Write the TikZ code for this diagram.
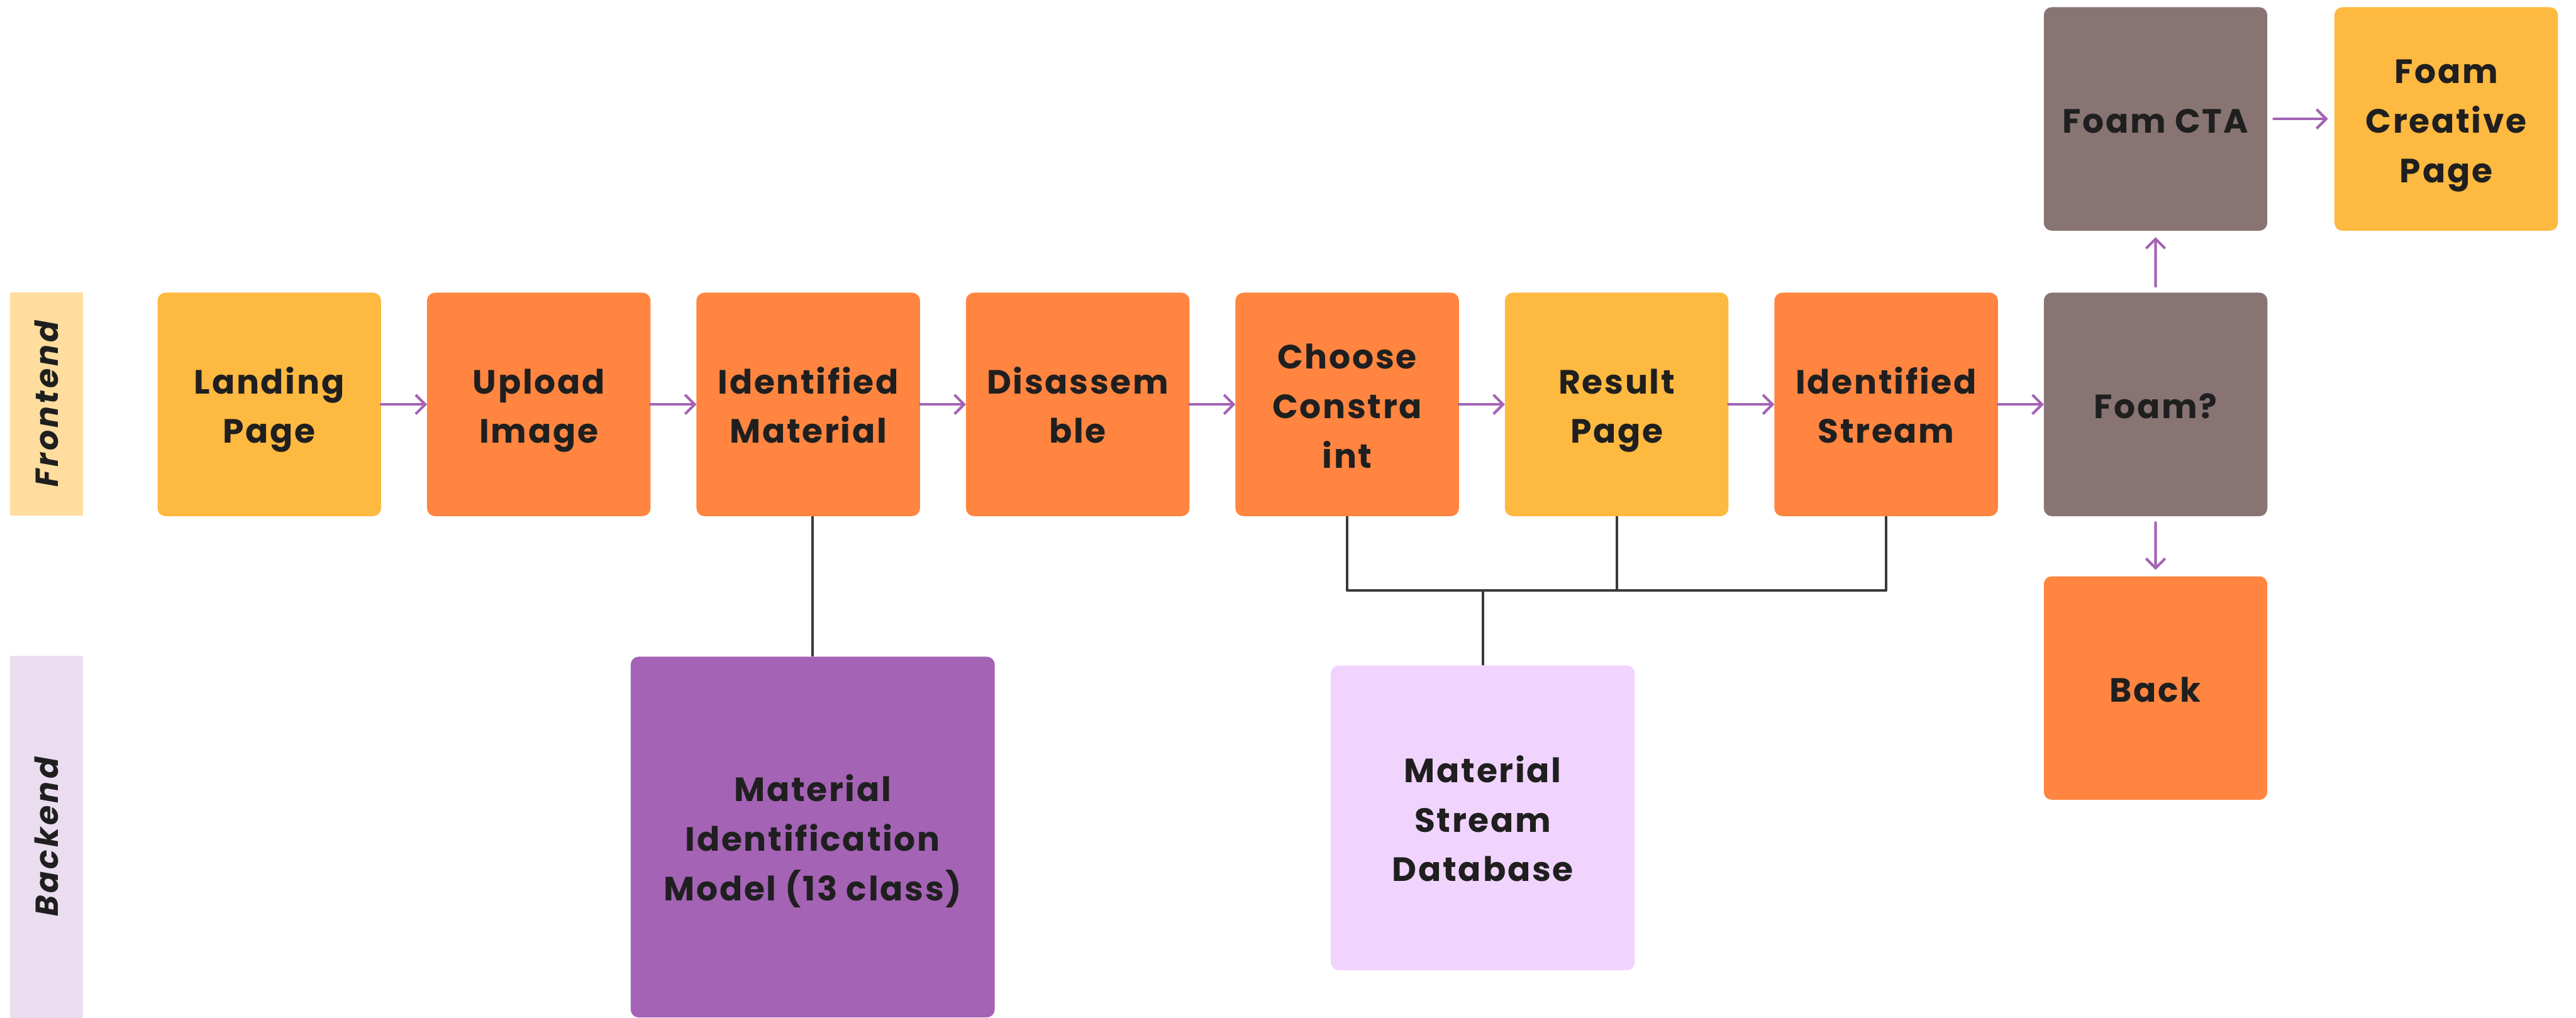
\documentclass[tikz,border=0pt]{standalone}
\usepackage{fontspec}
\setmainfont{Poppins}
\newfontfamily\boxfont[LetterSpace=5]{Poppins}
\newfontfamily\lanefont[LetterSpace=8]{Poppins}
\usetikzlibrary{arrows.meta,positioning}

\definecolor{laneFront}{HTML}{FFDD9E}
\definecolor{laneBack}{HTML}{EBDDF0}
\definecolor{pageYellow}{HTML}{FEB940}
\definecolor{stepOrange}{HTML}{FF8540}
\definecolor{foamGray}{HTML}{887473}
\definecolor{modelPurple}{HTML}{A463B5}
\definecolor{dbLilac}{HTML}{F1D4FE}
\definecolor{flowPurple}{HTML}{A463B5}
\definecolor{inkDark}{HTML}{1F1F1F}
\definecolor{wireDark}{HTML}{3A3A3A}

% one centred line box per row, like the design tool
\newcommand{\boxlines}[1]{\raisebox{-2.2pt}[\height][\depth]{\begin{tabular}{@{}c@{}}#1\end{tabular}}}

\begin{document}
\begin{tikzpicture}[line cap=round,line join=round,>={Straight Barb[length=1.8mm,width=3.6mm]}]
\tikzset{
    box/.style=      {rectangle, rounded corners=1.5mm, inner sep=0pt, outer sep=0pt,
                      minimum width=4.2cm, minimum height=4.2cm, text=inkDark,
                      font=\boxfont\bfseries\fontsize{18}{26.5}\selectfont},
    pagebox/.style=  {box, fill=pageYellow},
    stepbox/.style=  {box, fill=stepOrange},
    foambox/.style=  {box, fill=foamGray},
    lane/.style=     {rectangle, inner sep=0pt, outer sep=0pt, minimum width=1.37cm, text=inkDark,
                      font=\lanefont\bfseries\itshape\fontsize{17}{20}\selectfont},
    flow/.style=     {->, draw=flowPurple, line width=1.4pt},
    flowgap/.style=  {flow, shorten <=1.2mm, shorten >=1.2mm},
    wire/.style=     {draw=wireDark, line width=1.4pt, line cap=butt}
}
\useasboundingbox (0,0) rectangle (48.40,-19.13);

%% Lanes
\node[lane, fill=laneFront, minimum height=4.20cm] (front) at (0.87,-7.59) {};
\node[rotate=90, lane] at (front) {Frontend};
\node[lane, fill=laneBack, minimum height=6.80cm] (back) at (0.87,-15.73) {};
\node[rotate=90, lane] at (back) {Backend};

%% Frontend row
\node[pagebox] (landing) at (5.06,-7.60) {\boxlines{Landing\\Page}};
\node[stepbox, right=0.863cm of landing] (upload) {\boxlines{Upload\\Image}};
\node[stepbox, right=0.863cm of upload] (material) {\boxlines{Identified\\Material}};
\node[stepbox, right=0.863cm of material] (disassemble) {\boxlines{Disassem\\ble}};
\node[stepbox, right=0.863cm of disassemble] (constraint) {\boxlines{Choose\\Constra\\int}};
\node[pagebox, right=0.863cm of constraint] (result) {\boxlines{Result\\Page}};
\node[stepbox, right=0.863cm of result] (stream) {\boxlines{Identified\\Stream}};
\node[foambox, right=0.863cm of stream] (foam) {\boxlines{Foam?}};

\node[foambox] (cta) at (40.50,-2.235) {\boxlines{Foam CTA}};
\node[pagebox] (creative) at (45.96,-2.235) {\boxlines{Foam\\Creative\\Page}};
\node[stepbox] (back) at (40.50,-12.93) {\boxlines{Back}};

%% Backend
\node[box, fill=modelPurple, minimum width=6.84cm, minimum height=6.78cm] (model)
    at (15.27,-15.73) {\boxlines{Material\\Identification\\Model (13 class)}};
\node[box, fill=dbLilac, minimum width=5.71cm, minimum height=5.73cm] (db)
    at (27.86,-15.37) {\boxlines{Material\\Stream\\Database}};

%% Flow arrows
\draw[flow] (landing) -- (upload);
\draw[flow] (upload) -- (material);
\draw[flow] (material) -- (disassemble);
\draw[flow] (disassemble) -- (constraint);
\draw[flow] (constraint) -- (result);
\draw[flow] (result) -- (stream);
\draw[flow] (stream) -- (foam);
\draw[flowgap] (foam) -- (cta);
\draw[flowgap] (cta) -- (creative);
\draw[flowgap] (foam) -- (back);

%% Backend links
\coordinate (bus) at (0,-11.10);
\draw[wire] (model.north) -- (model.north |- material.south);
\draw[wire] (constraint.south) |- (bus -| stream.south) -- (stream.south);
\draw[wire] (result.south) -- (result.south |- bus);
\draw[wire] (db.north) -- (db.north |- bus);

\end{tikzpicture}
\end{document}
